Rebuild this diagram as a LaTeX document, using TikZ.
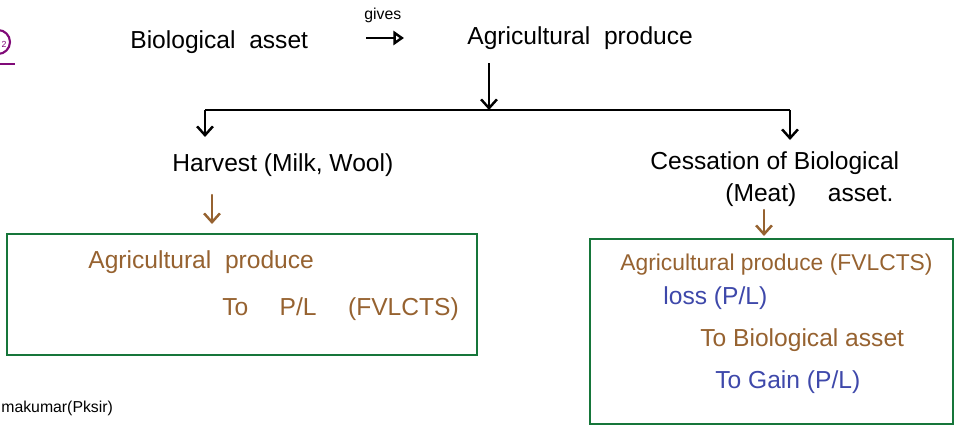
\documentclass[tikz,border=0pt]{standalone}
\usepackage{fontspec}
\setmainfont{Liberation Sans}
\usetikzlibrary{arrows.meta,positioning}
\definecolor{inkBrown}{RGB}{150,98,48}
\definecolor{inkBlue}{RGB}{62,72,170}
\definecolor{boxGreen}{RGB}{22,118,58}
\definecolor{notePurple}{RGB}{128,10,120}
\tikzset{
	ink/.style={font=\fontsize{14}{16}\selectfont,inner sep=0pt,anchor=west},
	flow/.style={line width=1.4pt,-{Straight Barb[length=5pt,width=9pt]}},
	brownflow/.style={flow,draw=inkBrown,line cap=round},
	resultbox/.style={draw=boxGreen,line width=1.5pt},
}
\begin{document}
\begin{tikzpicture}[x=0.02cm,y=-0.02cm]
\useasboundingbox (0,0) rectangle (959,426);
% point number, cut at the page edge
\draw[notePurple,line width=1.2pt] (-2,42) circle (12);
\node[notePurple,font=\tiny,inner sep=0pt] (num) at (4,44) {2};
\draw[notePurple,line width=1.2pt] (0,64) -- (15,64);
% top line
\node[ink] (bio) at (130,42) {Biological\ \ asset};
\node[ink,font=\fontsize{9}{10}\selectfont] (gives) at (364,15) {gives};
\coordinate (gs) at (366,38);
\coordinate (ge) at (404,38);
\draw[line width=1.4pt,-{Triangle[open,length=6pt,width=8pt]}] (gs) -- (ge);
\node[ink] (agri) at (467,38) {Agricultural\ \ produce};
% split into the two cases
\coordinate (split) at (489,110);
\coordinate (lft) at (205,110);
\coordinate (rgt) at (790,110);
\draw[flow] (489,63) -- (split);
\draw[line width=1.4pt] (lft) -- (rgt);
\node[ink] (harv) at (172,165) {Harvest (Milk,\ Wool)};
\node[ink] (cess) at (650,163) {Cessation of Biological};
\node[ink] (meat) at (725,195) {(Meat)\quad\ asset.};
\draw[flow] (lft) -- (205,137);
\draw[flow] (rgt) -- (790,140);
% left result
\draw[resultbox] (7,234) rectangle (477,355);
\draw[brownflow] (212,195) -- (212,224);
\node[ink,inkBrown] (lprod) at (88,262) {Agricultural\ \ produce};
\node[ink,inkBrown] (lpl) at (222,309) {To\quad\ P/L\quad\ (FVLCTS)};
% right result
\draw[resultbox] (590,239) rectangle (953,424);
\draw[brownflow] (764,210) -- (764,236);
\node[ink,inkBrown,font=\fontsize{13}{15}\selectfont] (rprod) at (620,265) {Agricultural produce (FVLCTS)};
\node[ink,inkBlue] (loss) at (663,298) {loss (P/L)};
\node[ink,inkBrown] (rba) at (700,340) {To Biological asset};
\node[ink,inkBlue] (gain) at (715,382) {To Gain (P/L)};
% footer
\node[anchor=west,inner sep=0pt,font=\fontsize{9}{10}\selectfont] (foot) at (1,408) {makumar(Pksir)};
\end{tikzpicture}
\end{document}
